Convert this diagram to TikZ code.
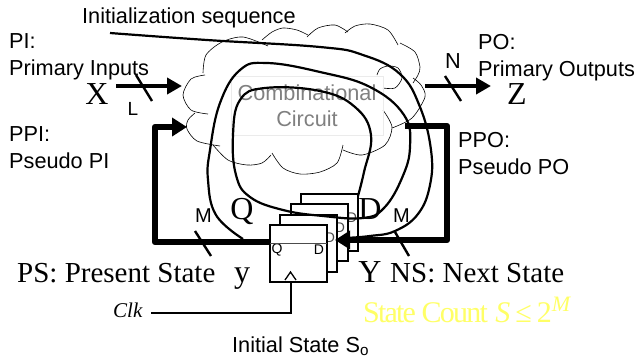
\documentclass[tikz,border=0pt]{standalone}
\usepackage{fontspec}
\setmainfont{Liberation Sans}
\newfontfamily\timesfont{Liberation Serif}
\newfontfamily\tightfont[LetterSpace=-6]{Liberation Serif}
\usetikzlibrary{arrows.meta}
\definecolor{countyellow}{HTML}{FFFF66}
\tikzset{
  lbl/.style={anchor=base west, inner sep=0pt, font=\fontsize{21.7}{27}\selectfont},
  lblblock/.style={anchor=north west, inner sep=0pt, align=left, font=\fontsize{21.7}{27}\selectfont},
  bigsym/.style={anchor=base, inner sep=0pt, font=\fontsize{32}{32}\timesfont\selectfont},
  stext/.style={anchor=base west, inner sep=0pt, font=\fontsize{29}{29}\timesfont\selectfont},
  pin/.style={inner sep=0pt, font=\fontsize{14}{14}\selectfont},
  ffbox/.style={draw, fill=white, line width=1.8pt, minimum width=57pt, minimum height=57pt, inner sep=0pt},
  cloudline/.style={line width=.6pt},
  loopline/.style={line width=2.2pt},
  busline/.style={line width=4pt, -{Triangle[length=15pt,width=16pt]}},
  fatline/.style={line width=6.5pt, line join=round, -{Triangle[length=15pt,width=18pt]}},
  slash/.style={line width=2.4pt},
}
\begin{document}
\begin{tikzpicture}[x=1pt, y=-1pt]
   \useasboundingbox (0,0) rectangle (638,360);
   % cloud
   \draw[cloudline] plot[smooth] coordinates {(205,75) (191,79) (183,95) (191,110) (208,114)};
   \draw[cloudline] plot[smooth] coordinates {(195,113) (188,120) (187,129) (197,141) (220,146)};
   \draw[cloudline] plot[smooth] coordinates {(213,145) (228,160) (247,165) (262,163) (271,155)};
   \draw[cloudline] plot[smooth] coordinates {(272,153) (283,168) (300,174) (320,172) (337,163) (343,145)};
   \draw[cloudline] plot[smooth] coordinates {(343,150) (362,155) (385,145) (392,127) (383,110)};
   \draw[cloudline] plot[smooth] coordinates {(392,128) (412,118) (425,97) (421,85) (413,78)};
   \draw[cloudline] plot[smooth] coordinates {(383,88) (395,88) (402,78) (398,68) (388,66) (380,69) (377,75)};
   \draw[cloudline] plot[smooth] coordinates {(400,43) (415,52) (420,67) (418,75) (413,83)};
   \draw[cloudline] plot[smooth] coordinates {(345,33) (355,26) (370,24) (388,30) (398,45)};
   \draw[cloudline] plot[smooth] coordinates {(307,37) (318,28) (335,25) (348,32)};
   \draw[cloudline] plot[smooth] coordinates {(262,40) (272,32) (283,28) (297,30) (308,35)};
   \draw[cloudline] plot[smooth] coordinates {(203,73) (206,55) (222,42) (243,37) (268,46)};
   \node[draw=black!8, line width=.6pt, text=black!50, align=center, minimum width=152pt, minimum height=59pt, inner sep=0pt, font=\fontsize{21.7}{26}\selectfont] (CC) at (307,106) {Combinational\\Circuit};
   % flip-flops
   \node[ffbox] (FF4) at (329.5,222.5) {};
   \node[pin, text=black!70] (D4) at (352,218) {D};
   \node[ffbox] (FF3) at (319.5,232.5) {};
   \node[pin, text=black!70] (D3) at (340,228) {D};
   \node[ffbox] (FF2) at (308.5,243.5) {};
   \node[pin, text=black!70] (D2) at (330,238) {D};
   \node[ffbox] (FF1) at (298.5,253.5) {};
   \node[pin] (Q1) at (277,250) {Q};
   \node[pin] (D1) at (319,250) {D};
   \coordinate (ffL) at (270,243);
   \coordinate (ffR) at (327,243);
   \draw[line width=1pt, black!70] (ffL) -- (ffR);
   \draw[line width=1.3pt] (285,280) -- (290.5,272) -- (296,280);
   % loops
   \coordinate (initstart) at (110,33);
   \coordinate (initend) at (345,238);
   \coordinate (loopstart) at (358,196);
   \coordinate (loopend) at (243,239);
   \draw[loopline] plot[smooth, tension=.7] coordinates {(initstart) (207,40) (320,47) (363,55) (400,74) (420,107) (431,150) (430,185) (418,214) (395,231) (370,236) (initend)};
   \draw[loopline] plot[smooth, tension=.7] coordinates {(loopstart) (364,172) (371,135) (355,107) (320,91) (265,88) (240,100) (233,135) (236,175) (250,197) (283,210) (323,216) (363,218) (384,208) (402,178) (410,147) (404,115) (370,87) (320,72) (267,63) (240,70) (220,103) (210,150) (208,180) (216,215) (loopend)};
   % buses
   \coordinate (xa) at (116,86);
   \coordinate (xb) at (182,86);
   \coordinate (za) at (425,86);
   \coordinate (zb) at (491,86);
   \draw[busline] (xa) -- (xb);
   \draw[busline] (za) -- (zb);
   \coordinate (ppoa) at (405,126);
   \coordinate (ppob) at (447,126);
   \coordinate (ppoc) at (447,240);
   \coordinate (ppod) at (335,240);
   \draw[fatline] (ppoa) -- (ppob) -- (ppoc) -- (ppod);
   \coordinate (ppia) at (270,242);
   \coordinate (ppib) at (155,242);
   \coordinate (ppic) at (155,127);
   \coordinate (ppid) at (187,127);
   \draw[fatline] (ppia) -- (ppib) -- (ppic) -- (ppid);
   \draw[slash] (136,75) -- (152,101);
   \draw[slash] (445,76) -- (461,101);
   \draw[slash] (195,231) -- (211,256);
   \draw[slash] (395,232) -- (409,256);
   % labels
   \node[lbl] (INIT) at (82,23) {Initialization sequence};
   \node[lblblock] (PI) at (9,33.5) {PI:\\Primary Inputs};
   \node[lblblock] (PPI) at (9,126) {PPI:\\Pseudo PI};
   \node[lblblock] (PO) at (478,34) {PO:\\Primary Outputs};
   \node[lblblock] (PPO) at (458,132) {PPO:\\Pseudo PO};
   \node[lbl, anchor=base] (N) at (453,68) {N};
   \node[lbl, anchor=base, font=\fontsize{19}{19}\selectfont] (L) at (133,115) {L};
   \node[lbl, font=\fontsize{20}{20}\selectfont] (M1) at (195,222) {M};
   \node[lbl, font=\fontsize{20}{20}\selectfont] (M2) at (393,222) {M};
   \node[bigsym] (X) at (97,104) {X};
   \node[bigsym] (Z) at (517,104) {Z};
   \node[bigsym] (Q) at (242,219) {Q};
   \node[bigsym] (D) at (370,219) {D};
   \node[bigsym] (Y) at (370,282) {Y};
   \node[bigsym] (y) at (242,282) {y};
   \node[stext] (PS) at (17,282) {PS: Present State};
   \node[stext] (NS) at (390,282) {NS: Next State};
   \node[anchor=base west, inner sep=0pt, font=\fontsize{21}{21}\timesfont\itshape\selectfont] (Clk) at (113,317) {Clk};
   \coordinate (clkbend) at (291,313);
   \coordinate (clkpin) at (291,282);
   \draw[line width=1.5pt] (151,313) -- (clkbend) -- (clkpin);
   \node[lbl] (S0) at (232,352) {Initial State S\textsubscript{o}};
   \node[anchor=base west, inner sep=0pt, text=countyellow, font=\fontsize{30}{30}\timesfont\selectfont] (COUNT) at (363,322) {{\tightfont State Count} \textit{S}\,≤\,2\raisebox{11pt}{\fontsize{22}{22}\selectfont\textit{M}}};
\end{tikzpicture}
\end{document}
